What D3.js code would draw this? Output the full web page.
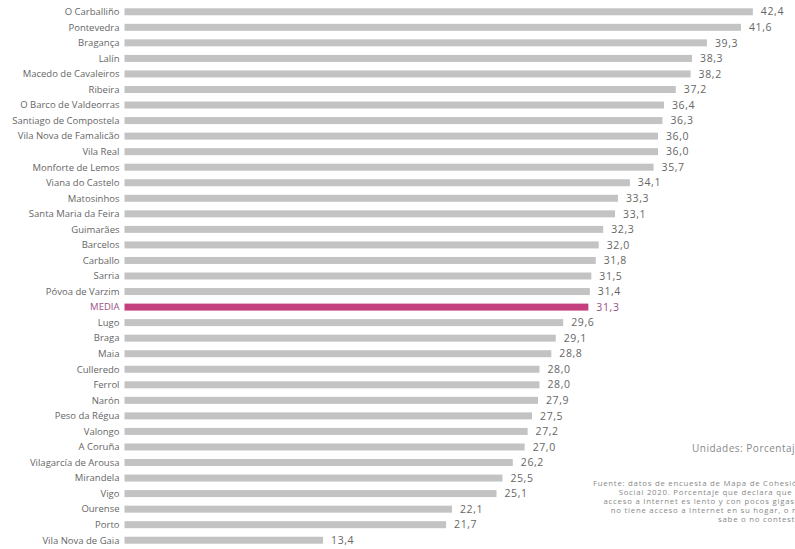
<!DOCTYPE html>
<html>
<head>
<meta charset="utf-8">
<script src="https://cdn.jsdelivr.net/npm/d3@7"></script>
<style>
  html, body { margin: 0; padding: 0; background: #fff; overflow: hidden; }
  svg { display: block; }
</style>
</head>
<body>
<svg id="chart" width="795" height="549"></svg>
<script>
// Municipios ordenados de mayor a menor porcentaje
const municipios = [
  "O Carballiño", "Pontevedra", "Bragança", "Lalín", "Macedo de Cavaleiros",
  "Ribeira", "O Barco de Valdeorras", "Santiago de Compostela", "Vila Nova de Famalicão",
  "Vila Real", "Monforte de Lemos", "Viana do Castelo", "Matosinhos",
  "Santa Maria da Feira", "Guimarães", "Barcelos", "Carballo", "Sarria",
  "Póvoa de Varzim", "MEDIA", "Lugo", "Braga", "Maia", "Culleredo", "Ferrol",
  "Narón", "Peso da Régua", "Valongo", "A Coruña", "Vilagarcía de Arousa",
  "Mirandela", "Vigo", "Ourense", "Porto", "Vila Nova de Gaia"
];
const porcentajes = [
  42.4, 41.6, 39.3, 38.3, 38.2,
  37.2, 36.4, 36.3, 36.0,
  36.0, 35.7, 34.1, 33.3,
  33.1, 32.3, 32.0, 31.8, 31.5,
  31.4, 31.3, 29.6, 29.1, 28.8, 28.0, 28.0,
  27.9, 27.5, 27.2, 27.0, 26.2,
  25.5, 25.1, 22.1, 21.7, 13.4
];
const mediaLabel = "MEDIA";
const unidades = "Unidades: Porcentaje";
const fuente = [
  "Fuente: datos de encuesta de Mapa de Cohesión",
  "Social 2020. Porcentaje que declara que el",
  "acceso a Internet es lento y con pocos gigas o",
  "no tiene acceso a Internet en su hogar, o no",
  "sabe o no contesta."
];

const data = municipios.map((m, i) => ({ nombre: m, valor: porcentajes[i] }));
const fmt = v => d3.format(".1f")(v).replace(".", ",");

const svg = d3.select("#chart");

const x = d3.scaleLinear().domain([0, 45]).range([124.5, 791.4]);
const y = d3.scaleBand()
  .domain(municipios)
  .range([4, 548])
  .paddingInner(0.55)
  .paddingOuter(0.275);

const gris = "#c3c3c3";
const magenta = "#c43f80";
const font = "'Open Sans', 'DejaVu Sans', sans-serif";

// Barras
svg.append("g").selectAll("rect")
  .data(data)
  .join("rect")
  .attr("x", x(0))
  .attr("y", d => y(d.nombre))
  .attr("width", d => x(d.valor) - x(0))
  .attr("height", y.bandwidth())
  .attr("fill", d => d.nombre === mediaLabel ? magenta : gris);

// Nombres de municipio
svg.append("g").selectAll("text")
  .data(data)
  .join("text")
  .attr("x", x(0) - 5)
  .attr("y", d => y(d.nombre) + y.bandwidth() / 2)
  .attr("dy", "0.35em")
  .attr("text-anchor", "end")
  .attr("font-family", font)
  .attr("font-size", "9.5px")
  .attr("fill", d => d.nombre === mediaLabel ? "#9a4f88" : "#666")
  .text(d => d.nombre);

// Valores al final de cada barra
svg.append("g").selectAll("text")
  .data(data)
  .join("text")
  .attr("x", d => x(d.valor) + 8)
  .attr("y", d => y(d.nombre) + y.bandwidth() / 2)
  .attr("dy", "0.35em")
  .attr("font-family", font)
  .attr("font-size", "10.5px")
  .attr("letter-spacing", "0.6px")
  .attr("fill", d => d.nombre === mediaLabel ? "#9a4f88" : "#666")
  .text(d => fmt(d.valor));

// Unidades
svg.append("text")
  .attr("x", 692)
  .attr("y", 452)
  .attr("font-family", font)
  .attr("font-size", "10px")
  .attr("letter-spacing", "0.5px")
  .attr("fill", "#888")
  .text(unidades);

// Fuente
svg.append("g").selectAll("text")
  .data(fuente)
  .join("text")
  .attr("x", 803)
  .attr("y", (d, i) => 486 + i * 9)
  .attr("text-anchor", "end")
  .attr("font-family", font)
  .attr("font-size", "7.8px")
  .attr("letter-spacing", "0.75px")
  .attr("fill", "#888")
  .text(d => d);
</script>
</body>
</html>
